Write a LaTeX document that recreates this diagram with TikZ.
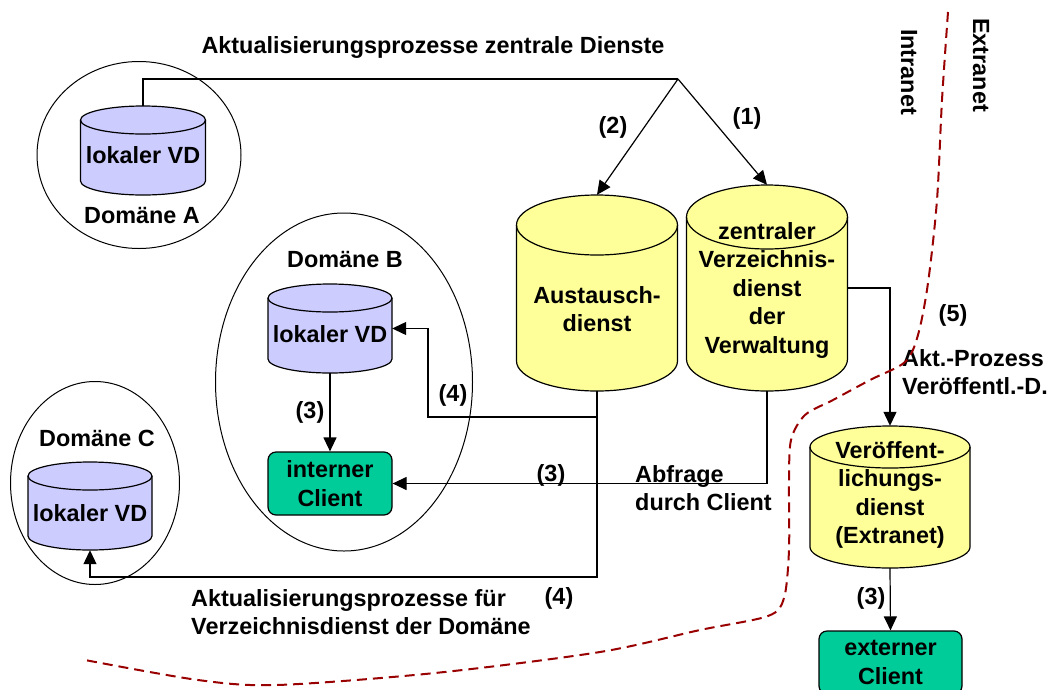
\documentclass[tikz,border=0pt]{standalone}
\usepackage{fontspec}
\setmainfont{Liberation Sans}
\usetikzlibrary{shapes.geometric, arrows.meta}
\definecolor{vdblau}{RGB}{204,204,255}
\definecolor{dienstgelb}{RGB}{255,255,153}
\definecolor{clientgruen}{RGB}{0,204,153}
\definecolor{grenzrot}{RGB}{153,0,0}

% name, x, y, half width, half height, cap radius, style, text shift, text
\newcommand{\datenbank}[9]{%
  \filldraw[#7] (#2-#4, #3-#5+#6) -- (#2-#4, #3+#5-#6)
    arc[start angle=180, end angle=0, x radius=#4, y radius=#6] -- (#2+#4, #3-#5+#6)
    arc[start angle=0, end angle=-180, x radius=#4, y radius=#6] -- cycle;
  \draw[#7, fill=none] (#2-#4, #3-#5+#6) arc[start angle=180, end angle=0, x radius=#4, y radius=#6];
  \node[minimum width=2*#4, minimum height=2*#5, inner sep=0pt] (#1) at (#2,#3) {};
  \node[align=center, inner sep=0pt] (#1-text) at (#2,#3+#8) {#9};
}

\begin{document}
\begin{tikzpicture}[x=1pt, y=-1pt,
    every node/.style={font=\fontsize{23.4}{28.5}\selectfont\bfseries},
    lokal/.style={draw, line width=1.2pt, fill=vdblau},
    dienst/.style={draw, line width=1.2pt, fill=dienstgelb},
    client/.style={rectangle, rounded corners=8pt, draw, line width=1.2pt, fill=clientgruen, minimum width=124pt, minimum height=63pt, align=center, inner sep=0pt},
    domaene/.style={ellipse, draw, line width=1pt, inner sep=0pt},
    pfeil/.style={line width=1.2pt, -{Triangle[length=14pt, width=13pt]}},
    linie/.style={line width=1.2pt},
    grenze/.style={draw=grenzrot, line width=2pt, dash pattern=on 10pt off 6pt}]
    \useasboundingbox (0,0) rectangle (1050,689);

    %domains
    \node[domaene, minimum width=204pt, minimum height=187pt] (domA) at (139,155) {};
    \node[domaene, minimum width=257pt, minimum height=338pt] (domB) at (344,382) {};
    \node[domaene, minimum width=169pt, minimum height=203pt] (domC) at (95,483) {};
    \node (labA) at (142,216) {Domäne A};
    \node (labB) at (345,260) {Domäne B};
    \node (labC) at (97,438) {Domäne C};

    %databases
    \datenbank{lvdA}{143}{150.5}{62.5}{44.5}{14}{lokal}{5}{lokaler VD}
    \datenbank{lvdB}{330}{328.5}{62}{44.5}{14}{lokal}{6}{lokaler VD}
    \datenbank{lvdC}{90}{506}{62}{44}{14}{lokal}{7}{lokaler VD}
    \datenbank{aus}{597}{293}{80.5}{98}{30}{dienst}{16}{Austausch-\\dienst}
    \datenbank{zvd}{767}{288}{80.5}{103}{32}{dienst}{2}{zentraler\\Verzeichnis-\\dienst\\der\\Verwaltung}
    \datenbank{vdx}{890}{497}{80}{71}{21}{dienst}{-2}{Veröffent-\\lichungs-\\dienst\\(Extranet)}

    %clients
    \node[client] (intc) at (330,483.5) {interner\\Client};
    \node[client, minimum width=143pt] (ext) at (890.5,662.5) {externer\\Client};

    %labels
    \node (titel) at (433,47) {Aktualisierungsprozesse zentrale Dienste};
    \node (n2) at (613,127) {(2)};
    \node (n1) at (747,118) {(1)};
    \node (n5) at (953,315) {(5)};
    \node[anchor=west, align=left, inner sep=0pt] (akt) at (902,372) {Akt.-Prozess\\Veröffentl.-D.};
    \node (n3b) at (310,412) {(3)};
    \node (n4b) at (453,395) {(4)};
    \node (n3a) at (551,475) {(3)};
    \node[anchor=west, align=left, inner sep=0pt] (abfr) at (635,488) {Abfrage\\durch Client};
    \node[anchor=west, align=left, inner sep=0pt] (aktd) at (191,612) {Aktualisierungsprozesse für\\Verzeichnisdienst der Domäne};
    \node (n4c) at (559,598) {(4)};
    \node (n3c) at (871,598) {(3)};
    \node[rotate=-90] (intra) at (909,72) {Intranet};
    \node[rotate=-90] (extra) at (981,65) {Extranet};

    %edges
    \coordinate (spitze) at (678,79);
    \coordinate (knick4) at (428,417);
    \draw[linie] (lvdA.north) |- (spitze);
    \draw[pfeil] (spitze) -- (aus.north);
    \draw[pfeil] (spitze) -- (zvd.north);
    \draw[pfeil] (zvd.east) -| (vdx.north);
    \draw[pfeil] (vdx.south) -- (ext.north);
    \draw[pfeil] (zvd.south) |- (intc.east);
    \draw[pfeil] (lvdB.south) -- (intc.north);
    \draw[pfeil] (aus.south) -- (aus.south |- 0,577) -| (lvdC.south);
    \draw[pfeil] (aus.south |- knick4) -- (knick4) |- (lvdB.east);

    %border intranet / extranet
    \draw[grenze] plot[smooth, tension=0.5] coordinates {(948,12) (942,100) (937,200) (928,283) (918,335) (905,362) (870,380) (833,400) (805,415) (791,440) (789,483) (789,550) (784,598) (768,616) (700,630) (600,652) (435,673) (277,685) (198,680) (85,660)};
\end{tikzpicture}
\end{document}
